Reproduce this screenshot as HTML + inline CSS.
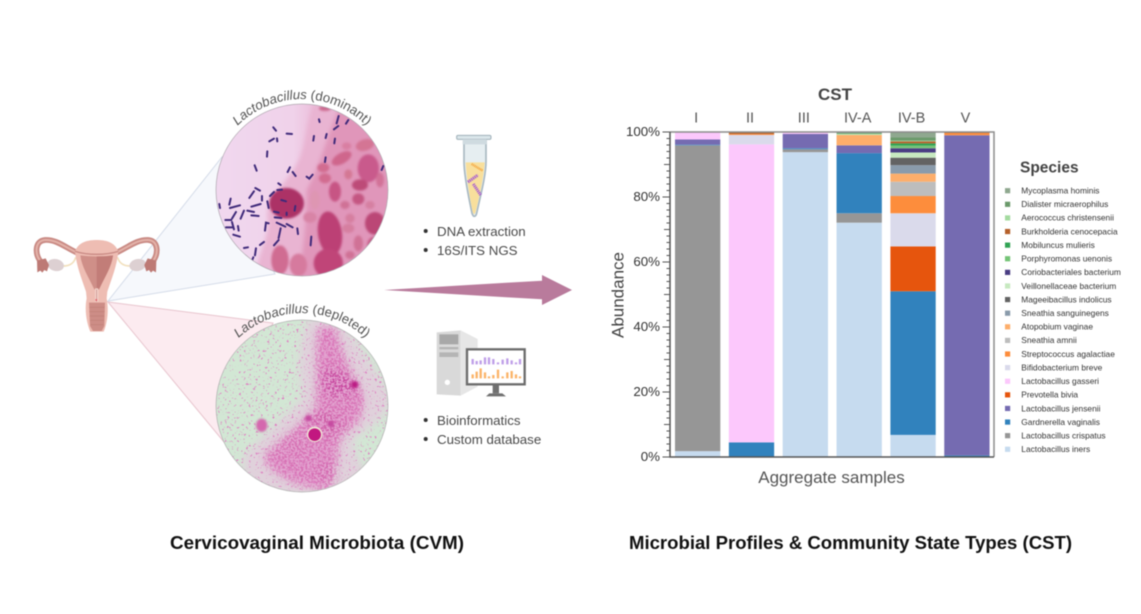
<!DOCTYPE html>
<html lang="en">
<head>
<meta charset="utf-8">
<title>Cervicovaginal Microbiota and Community State Types</title>
<style>
html,body{margin:0;padding:0;background:#fff;width:1141px;height:614px;overflow:hidden}
svg{display:block;filter:blur(0.4px)}
text{font-family:"Liberation Sans",sans-serif}
</style>
</head>
<body>
<svg id="root" xmlns="http://www.w3.org/2000/svg" width="1141" height="614" viewBox="0 0 1141 614">
<defs>
  <clipPath id="clip1"><circle cx="302" cy="190" r="86"/></clipPath>
  <clipPath id="clip2"><circle cx="302" cy="406" r="86"/></clipPath>
  <linearGradient id="m1bg" x1="0" y1="0" x2="1" y2="0">
    <stop offset="0" stop-color="#f1d8ef"/><stop offset="0.45" stop-color="#f0d2ea"/><stop offset="0.62" stop-color="#eab8d6"/><stop offset="1" stop-color="#e09abe"/>
  </linearGradient>
  <filter id="soft" x="-30%" y="-30%" width="160%" height="160%"><feGaussianBlur stdDeviation="6"/></filter>
  <filter id="soft12" x="-40%" y="-40%" width="180%" height="180%"><feGaussianBlur stdDeviation="13"/></filter>
  <filter id="soft1" x="-30%" y="-30%" width="160%" height="160%"><feGaussianBlur stdDeviation="3.2"/></filter>
  <filter id="speck" x="0" y="0" width="100%" height="100%" color-interpolation-filters="sRGB">
    <feTurbulence type="fractalNoise" baseFrequency="0.14" numOctaves="2" seed="7" result="n"/>
    <feColorMatrix in="n" type="matrix" values="0 0 0 0 0.87  0 0 0 0 0.5  0 0 0 0 0.76  9 0 0 0 -5.7" result="s"/>
    <feComposite in="s" in2="SourceAlpha" operator="in"/>
  </filter>
  <filter id="speck2" x="0" y="0" width="100%" height="100%" color-interpolation-filters="sRGB">
    <feTurbulence type="fractalNoise" baseFrequency="0.16" numOctaves="2" seed="3" result="n"/>
    <feColorMatrix in="n" type="matrix" values="0 0 0 0 1  0 0 0 0 1  0 0 0 0 1  6 0 0 0 -2.6" result="m"/>
    <feComposite in="SourceGraphic" in2="m" operator="in"/>
  </filter>
</defs>

<rect width="1141" height="614" fill="#fff"/>

<!-- Fans -->
<polygon points="108,301 222,157 275,274" fill="#f6f8fc" stroke="#d5dce9" stroke-width="1"/>
<polygon points="108,302 273,323 224,442" fill="#fcebf0" stroke="#e8c5ce" stroke-width="1"/>

<!-- Uterus -->
<g transform="translate(25,230) scale(0.3333)">
  <g>
    <path d="M115 108 C135 108,148 98,152 82" fill="none" stroke="#f2e0bd" stroke-width="5"/>
    <ellipse cx="92" cy="105" rx="25" ry="18" transform="rotate(12 92 105)" fill="#ddd0d2"/>
    <path d="M160 70 C120 52,95 28,60 30 C30 32,28 70,47 95" fill="none" stroke="#c98a84" stroke-width="17"/>
    <path d="M160 70 C120 52,95 28,60 30 C30 32,28 70,47 95" fill="none" stroke="#e3b2a9" stroke-width="6"/>
    <path d="M36 92 L62 85 L72 105 L66 124 L58 120 L52 128 L46 122 L37 127 Z" fill="#bd7a75"/>
  </g>
  <g transform="translate(430,0) scale(-1,1)">
    <path d="M115 108 C135 108,148 98,152 82" fill="none" stroke="#f2e0bd" stroke-width="5"/>
    <ellipse cx="92" cy="105" rx="25" ry="18" transform="rotate(12 92 105)" fill="#ddd0d2"/>
    <path d="M160 70 C120 52,95 28,60 30 C30 32,28 70,47 95" fill="none" stroke="#c98a84" stroke-width="17"/>
    <path d="M160 70 C120 52,95 28,60 30 C30 32,28 70,47 95" fill="none" stroke="#e3b2a9" stroke-width="6"/>
    <path d="M36 92 L62 85 L72 105 L66 124 L58 120 L52 128 L46 122 L37 127 Z" fill="#bd7a75"/>
  </g>
  <path d="M150 65 C160 35,190 30,215 30 C240 30,270 35,280 65 C275 110,262 140,247 185 L245 205 C252 240,247 280,236 305 L196 305 C185 280,178 240,185 205 L183 185 C168 140,155 110,150 65Z" fill="#eebdb3"/>
  <path d="M150 64 C190 76,240 76,280 64" fill="none" stroke="#c98a84" stroke-width="4"/>
  <path d="M166 76 C195 80,235 80,264 76 C260 110,240 140,222 178 L208 178 C190 140,170 110,166 76Z" fill="#cf8f88"/>
  <path d="M215 79 C235 80,250 78,264 76 C260 110,240 140,222 178 L215 178Z" fill="#c27d78"/>
  <path d="M215 175 L215 215" stroke="#f5d8d0" stroke-width="9"/>
  <path d="M215 178 L215 215" stroke="#c27d78" stroke-width="2"/>
  <circle cx="214" cy="210" r="3" fill="#e2606a"/>
  <path d="M192 218 L240 218 L238 288 L230 303 L204 303 L195 288Z" fill="#cd8d86"/>
  <path d="M193 232 H239 M193 245 H239 M194 258 H238 M195 271 H237 M197 284 H235" stroke="#c08078" stroke-width="2"/>
</g>

<!-- Micrograph 1 -->
<g clip-path="url(#clip1)">
  <rect x="216" y="104" width="172" height="172" fill="url(#m1bg)"/>
  <g transform="translate(20,80) scale(0.3333)">
    <path d="M880 70 C850 160,860 210,820 270 C770 340,730 370,745 430 C740 500,690 560,720 610 L1120 610 L1120 60Z" fill="#e9b4d2" filter="url(#soft)"/>
    <path d="M960 80 C920 170,900 260,860 330 C860 430,850 520,830 610 L1120 610 L1120 60Z" fill="#e096ba" filter="url(#soft)"/>
    <g filter="url(#soft1)">
      <ellipse cx="800" cy="370" rx="52" ry="46" fill="#ac3066"/>
      <ellipse cx="930" cy="460" rx="36" ry="66" transform="rotate(-8 930 460)" fill="#bc3f74"/>
      <ellipse cx="925" cy="550" rx="44" ry="44" fill="#c04478"/>
      <ellipse cx="780" cy="540" rx="26" ry="44" fill="#d06c92"/>
      <ellipse cx="835" cy="555" rx="26" ry="34" fill="#d67a9e"/>
      <ellipse cx="1045" cy="265" rx="32" ry="42" fill="#c95a8c"/>
      <ellipse cx="1065" cy="430" rx="30" ry="34" fill="#bb4676"/>
      <ellipse cx="945" cy="335" rx="18" ry="30" fill="#c75484"/>
      <ellipse cx="965" cy="235" rx="33" ry="16" transform="rotate(-30 965 235)" fill="#cf668c"/>
      <ellipse cx="1035" cy="195" rx="28" ry="17" transform="rotate(-15 1035 195)" fill="#d47494"/>
      <ellipse cx="910" cy="263" rx="18" ry="14" fill="#d26c90"/>
      <ellipse cx="915" cy="295" rx="18" ry="15" fill="#d26c90"/>
      <ellipse cx="980" cy="198" rx="14" ry="11" fill="#d97fa2"/>
      <ellipse cx="1020" cy="315" rx="24" ry="17" fill="#bd4c78"/>
      <ellipse cx="1015" cy="357" rx="18" ry="17" fill="#c45682"/>
      <ellipse cx="975" cy="375" rx="14" ry="12" fill="#d07296"/>
      <ellipse cx="1015" cy="490" rx="14" ry="24" fill="#d07296"/>
      <ellipse cx="985" cy="445" rx="18" ry="14" fill="#d67fa0"/>
      <ellipse cx="990" cy="415" rx="14" ry="14" fill="#d67fa0"/>
      <ellipse cx="870" cy="412" rx="20" ry="16" fill="#d884a6"/>
      <ellipse cx="885" cy="360" rx="14" ry="28" fill="#de96b2"/>
      <ellipse cx="1080" cy="300" rx="12" ry="22" fill="#d27298"/>
      <ellipse cx="985" cy="283" rx="12" ry="15" fill="#d47894"/>
      <ellipse cx="990" cy="525" rx="14" ry="12" fill="#d07296"/>
      <ellipse cx="915" cy="85" rx="18" ry="8" fill="#cc6a90"/>
      <ellipse cx="1060" cy="495" rx="18" ry="24" fill="#c85c88"/>
      <ellipse cx="1050" cy="375" rx="14" ry="12" fill="#d680a2"/>
    </g>
    <path fill="none" stroke="#3f2a7a" stroke-width="6" stroke-linecap="round" d="M760 142 L768 152 M800 161 L816 162 M748 184 L762 176 M771 175 L772 184 M742 214 L741 230 M704 256 L710 272 M803 276 L810 262 M818 276 L827 288 M860 290 L868 296 L878 284 M882 168 L880 182 M920 162 L917 174 M945 176 L943 190 M950 130 L956 108 M942 148 L955 138 M985 120 L978 131 M897 118 L899 126 M917 232 L915 246 M1090 258 L1085 270 M775 310 L782 315 M706 324 L720 332 M772 330 L786 329 M702 334 L688 354 M750 348 L762 336 M726 348 L726 362 M632 356 L628 374 M598 372 L600 384 M630 384 L660 376 M694 380 L722 372 M742 364 L746 384 M648 396 L636 416 M616 420 L634 420 M662 416 L672 392 M682 392 L702 396 M694 406 L716 408 M636 426 L642 448 M618 442 L640 442 M654 438 L656 452 M640 464 L660 470 M735 452 L738 428 L746 430 M762 395 L776 398 M764 412 L784 414 M770 428 L796 440 M800 432 L818 442 M782 445 L776 474 M776 480 L762 496 M672 504 L684 502 M720 495 L732 486 M708 505 L705 526 M700 532 L696 542 M832 445 L834 462 M874 470 L872 496 M826 378 L824 392 M800 398 L800 405 M784 360 L798 364"/>
  </g>
</g>
<circle cx="302" cy="190" r="86" fill="none" stroke="#b0a8b0" stroke-width="0.7"/>

<!-- Micrograph 2 -->
<g clip-path="url(#clip2)">
  <rect x="216" y="320" width="172" height="172" fill="#d2e7d4"/>
  <g transform="translate(20,300) scale(0.3333)">
    <g filter="url(#soft12)">
      <path d="M870 50 C830 130,830 210,850 290 C810 340,740 390,670 470 C660 520,700 590,760 590 L1060 590 C1040 500,1000 470,1000 420 C1050 380,1110 350,1110 290 C1080 220,1010 130,960 50Z" fill="#e4c9de" opacity="0.75"/>
      <path d="M900 80 C885 150,895 220,890 320 C860 360,800 410,730 470 C760 530,840 560,920 570 C955 510,945 470,960 410 C1010 370,1040 340,1030 280 C1000 230,960 170,945 80Z" fill="#e2a2cf"/>
    </g>
    <g filter="url(#speck2)"><g filter="url(#soft12)">
      <path d="M900 80 C885 150,895 220,890 320 C860 360,800 410,730 470 C760 530,840 560,920 570 C955 510,945 470,960 410 C1010 370,1040 340,1030 280 C1000 230,960 170,945 80Z" fill="#d873b6"/>
      <path d="M905 210 C950 195,1005 230,1015 265 C1000 300,940 290,905 280Z" fill="#c84aa0"/>
      <path d="M880 335 C920 325,985 350,975 395 C950 425,900 415,870 380Z" fill="#cf5ea8"/>
      <path d="M770 435 C795 400,845 380,865 420 C855 465,790 475,750 465Z" fill="#d670b2"/>
      <path d="M905 490 C930 475,955 500,945 545 C920 555,895 530,905 490Z" fill="#d062aa"/>
    </g></g>
    <rect x="590" y="50" width="520" height="540" fill="#000" filter="url(#speck)"/>
    <circle cx="1004" cy="254" r="11" fill="#bc1f85" filter="url(#soft1)"/>
    <ellipse cx="725" cy="376" rx="17" ry="20" fill="#d468ae" filter="url(#soft1)"/>
    <circle cx="865" cy="355" r="10" fill="#c64aa0" filter="url(#soft1)"/>
    <circle cx="933" cy="372" r="10" fill="#c64aa0" filter="url(#soft1)"/>
    <circle cx="884" cy="403" r="23" fill="#efe8d6"/>
    <circle cx="884" cy="404" r="19" fill="#c21780"/>
  </g>
</g>
<circle cx="302" cy="406" r="86" fill="none" stroke="#b0b0b0" stroke-width="0.7"/>

<!-- Curved labels -->
<path id="arc1" d="M211 190 A91 91 0 0 1 393 190" fill="none"/>
<path id="arc2" d="M209 406 A93 93 0 0 1 395 406" fill="none"/>
<text font-size="13.2" fill="#555"><textPath href="#arc1" startOffset="50%" text-anchor="middle"><tspan font-style="italic">Lactobacillus</tspan> (dominant)</textPath></text>
<text font-size="13.2" fill="#555"><textPath href="#arc2" startOffset="50%" text-anchor="middle"><tspan font-style="italic">Lactobacillus</tspan> (depleted)</textPath></text>

<!-- Tube -->
<g transform="translate(380,120) scale(0.3333)">
  <path d="M252 60 L318 60 L318 125 C318 170,298 240,290 280 C287 292,280 292,276 280 C268 240,252 170,252 125Z" fill="#e6eef1" stroke="#a9b9c2" stroke-width="5"/>
  <path d="M257 127 L314 127 C312 170,296 240,287 275 C284 285,281 285,278 275 C270 240,259 170,257 127Z" fill="#f8df9c"/>
  <rect x="230" y="46" width="103" height="12" rx="4" fill="#dbe6ea" stroke="#9fb0b9" stroke-width="3"/>
  <rect x="248" y="58" width="72" height="15" fill="#cfdbe0"/>
  <path d="M275 132 L308 152" stroke="#f5a33c" stroke-width="7" stroke-dasharray="3 2"/>
  <path d="M264 186 L294 165" stroke="#a85fd0" stroke-width="9" stroke-dasharray="4 2"/>
  <path d="M280 192 L302 225" stroke="#a85fd0" stroke-width="9" stroke-dasharray="4 2"/>
</g>
<g>
  <circle cx="425.7" cy="231" r="2" fill="#333"/>
  <circle cx="425.7" cy="250" r="2" fill="#333"/>
  <text x="437" y="236" font-size="13.3" fill="#4a4a4a">DNA extraction</text>
  <text x="437" y="255" font-size="13.3" fill="#4a4a4a">16S/ITS NGS</text>
</g>

<!-- Arrow -->
<polygon points="384,290 542,280.7 542,275 572,290 542,305 542,299.3" fill="#b97b9c"/>

<!-- Computer -->
<g transform="translate(430,325) scale(0.3333)">
  <polygon points="92,16 143,42 143,185 92,212" fill="#e6e6e6"/>
  <polygon points="20,22 92,16 92,212 20,208" fill="#d9d9d9"/>
  <rect x="28" y="28" width="57" height="30" fill="#a8a8a8"/>
  <rect x="28" y="66" width="57" height="7" fill="#b5b5b5"/>
  <rect x="28" y="82" width="57" height="14" fill="#b5b5b5"/>
  <circle cx="52" cy="172" r="8" fill="#fff"/>
  <rect x="188" y="178" width="19" height="27" fill="#707070"/>
  <polygon points="178,205 217,205 228,214 168,214" fill="#707070"/>
  <rect x="111" y="73" width="173" height="105" fill="#fff" stroke="#6d6d6d" stroke-width="7"/>
  <g stroke="#bf9fe8" stroke-width="7">
    <path d="M128 118 V102 M140 118 V108 M152 118 V106 M165 118 V97 M177 118 V97 M190 118 V102 M204 118 V112 M218 118 V104 M232 118 V100 M245 118 V106 M258 118 V112 M270 118 V102"/>
  </g>
  <g stroke="#fbb469" stroke-width="7">
    <path d="M128 160 V148 M140 160 V140 M152 160 V130 M165 160 V142 M177 160 V154 M190 160 V150 M204 160 V134 M218 160 V154 M232 160 V142 M245 160 V138 M258 160 V148 M270 160 V154"/>
  </g>
</g>
<g>
  <circle cx="425.7" cy="420" r="2" fill="#333"/>
  <circle cx="425.7" cy="439" r="2" fill="#333"/>
  <text x="437" y="425" font-size="13.3" fill="#4a4a4a">Bioinformatics</text>
  <text x="437" y="444" font-size="13.3" fill="#4a4a4a">Custom database</text>
</g>

<!-- Section titles -->
<text x="170" y="549" font-size="18" font-weight="bold" fill="#111" textLength="294" lengthAdjust="spacingAndGlyphs">Cervicovaginal Microbiota (CVM)</text>
<text x="629" y="549" font-size="18" font-weight="bold" fill="#111" textLength="443" lengthAdjust="spacingAndGlyphs">Microbial Profiles &amp; Community State Types (CST)</text>

<g id="chart"></g>
</svg>

<script>
const categories = ["I", "II", "III", "IV-A", "IV-B", "V"];
const speciesStackOrder = ["Lactobacillus iners", "Lactobacillus crispatus", "Gardnerella vaginalis", "Lactobacillus jensenii", "Prevotella bivia", "Lactobacillus gasseri", "Bifidobacterium breve", "Streptococcus agalactiae", "Sneathia amnii", "Atopobium vaginae", "Sneathia sanguinegens", "Mageeibacillus indolicus", "Veillonellaceae bacterium", "Coriobacteriales bacterium", "Porphyromonas uenonis", "Mobiluncus mulieris", "Burkholderia cenocepacia", "Aerococcus christensenii", "Dialister micraerophilus", "Mycoplasma hominis"];
const speciesColors = ["#c6dbef", "#969696", "#3182bd", "#756bb1", "#e6550d", "#fcc8fc", "#dadaeb", "#fd8d3c", "#bdbdbd", "#fdae6b", "#8a9bab", "#636363", "#c7e9c0", "#4a3d83", "#74c476", "#31a354", "#b5602a", "#a4dba0", "#6b9a6b", "#8fa88f"];
const seriesIners = [1.8, 0, 93.8, 72.1, 6.8, 0];
const seriesCrispatus = [94.1, 0, 0.9, 2.9, 0, 0];
const seriesGardnerella = [0.2, 4.5, 0.3, 18.5, 44.2, 0.5];
const seriesJensenii = [1.6, 0, 4.4, 2.4, 0, 98.5];
const seriesPrevotella = [0, 0, 0, 0, 13.8, 0];
const seriesGasseri = [2.3, 91.7, 0.6, 0, 0, 0];
const seriesBifidobacterium = [0, 2.9, 0, 0, 10.2, 0];
const seriesStreptococcus = [0, 0.3, 0, 0, 5.3, 0.7];
const seriesAmnii = [0, 0, 0, 0, 4.4, 0];
const seriesAtopobium = [0, 0, 0, 3.2, 2.5, 0];
const seriesSanguinegens = [0, 0, 0, 0, 2.6, 0];
const seriesMageeibacillus = [0, 0, 0, 0, 2.3, 0];
const seriesVeillonellaceae = [0, 0, 0, 0.2, 1.6, 0];
const seriesCoriobacteriales = [0, 0, 0, 0, 1.3, 0];
const seriesPorphyromonas = [0, 0, 0, 0.2, 0.8, 0];
const seriesMobiluncus = [0, 0, 0, 0, 0.7, 0];
const seriesBurkholderia = [0, 0.6, 0, 0, 0.6, 0.3];
const seriesAerococcus = [0, 0, 0, 0, 0.2, 0];
const seriesDialister = [0, 0, 0, 0.2, 1.0, 0];
const seriesMycoplasma = [0, 0, 0, 0.3, 1.6, 0];
const yTickValues = [0, 20, 40, 60, 80, 100];

const allSeries = [seriesIners, seriesCrispatus, seriesGardnerella, seriesJensenii, seriesPrevotella, seriesGasseri, seriesBifidobacterium, seriesStreptococcus, seriesAmnii, seriesAtopobium, seriesSanguinegens, seriesMageeibacillus, seriesVeillonellaceae, seriesCoriobacteriales, seriesPorphyromonas, seriesMobiluncus, seriesBurkholderia, seriesAerococcus, seriesDialister, seriesMycoplasma];

const NS = "http://www.w3.org/2000/svg";
const chart = document.getElementById("chart");
function yScale(v) { return 457 - v * 3.25; }
function barLeft(i) { return 675 + i * 53.85; }
const barWidth = 45.3;
function slug(s) { return s.toLowerCase().replace(/[^a-z0-9]+/g, "-"); }
function make(tag, parent) {
  const el = document.createElementNS(NS, tag);
  parent.appendChild(el);
  return el;
}

// bars
categories.forEach(function (cat, c) {
  const group = make("g", chart);
  
  
  let cumulative = 0;
  allSeries.forEach(function (series, s) {
    const v = series[c];
    if (v <= 0) return;
    const seg = make("rect", group);
    
    
    seg.setAttribute("x", barLeft(c));
    seg.setAttribute("width", barWidth);
    seg.setAttribute("y", yScale(cumulative + v));
    seg.setAttribute("height", v * 3.25);
    seg.setAttribute("fill", speciesColors[s]);
    cumulative += v;
  });
});

// frame and axes
const frame = make("path", chart);


frame.setAttribute("d", "M670 " + yScale(100) + " H994 V" + yScale(0));
frame.setAttribute("fill", "none");
frame.setAttribute("stroke", "#8c8c8c");
frame.setAttribute("stroke-width", "1.5");

const yAxis = make("path", chart);


yAxis.setAttribute("d", "M670 " + yScale(100) + " V" + yScale(0) + " H994");
yAxis.setAttribute("fill", "none");
yAxis.setAttribute("stroke", "#555");
yAxis.setAttribute("stroke-width", "1.5");

for (let v = 0; v <= 100; v += 2) {
  const tick = make("line", chart);
  
  
  const len = v % 20 === 0 ? 7.5 : (v % 10 === 0 ? 6 : 3.5);
  tick.setAttribute("x1", 670 - len);
  tick.setAttribute("x2", 670);
  tick.setAttribute("y1", yScale(v));
  tick.setAttribute("y2", yScale(v));
  tick.setAttribute("stroke", "#555");
  tick.setAttribute("stroke-width", "1");
}

yTickValues.forEach(function (v) {
  const label = make("text", chart);
  
  
  label.setAttribute("x", 660);
  label.setAttribute("y", yScale(v) + 4);
  label.setAttribute("text-anchor", "end");
  label.setAttribute("font-size", "13.3");
  label.setAttribute("fill", "#333");
  label.textContent = v + "%";
});

categories.forEach(function (cat, c) {
  const label = make("text", chart);
  
  
  label.setAttribute("x", barLeft(c) + barWidth / 2 - 1.5);
  label.setAttribute("y", 122.5);
  label.setAttribute("text-anchor", "middle");
  label.setAttribute("font-size", "14.5");
  label.setAttribute("fill", "#555");
  label.textContent = cat;
});

const cstTitle = make("text", chart);


cstTitle.setAttribute("x", 835);
cstTitle.setAttribute("y", 100);
cstTitle.setAttribute("text-anchor", "middle");
cstTitle.setAttribute("font-size", "17");
cstTitle.setAttribute("font-weight", "bold");
cstTitle.setAttribute("fill", "#444");
cstTitle.textContent = "CST";

const yTitle = make("text", chart);


yTitle.setAttribute("transform", "translate(623.5,295) rotate(-90)");
yTitle.setAttribute("text-anchor", "middle");
yTitle.setAttribute("font-size", "17");
yTitle.setAttribute("fill", "#444");
yTitle.textContent = "Abundance";

const xTitle = make("text", chart);


xTitle.setAttribute("x", 831.5);
xTitle.setAttribute("y", 483);
xTitle.setAttribute("text-anchor", "middle");
xTitle.setAttribute("font-size", "17");
xTitle.setAttribute("fill", "#555");
xTitle.textContent = "Aggregate samples";

// legend
const legendTitle = make("text", chart);


legendTitle.setAttribute("x", 1020);
legendTitle.setAttribute("y", 172.5);
legendTitle.setAttribute("font-size", "15.5");
legendTitle.setAttribute("font-weight", "bold");
legendTitle.setAttribute("fill", "#444");
legendTitle.textContent = "Species";

speciesStackOrder.forEach(function (name, s) {
  const row = speciesStackOrder.length - 1 - s;
  const yc = 190.7 + row * 13.61;
  const entry = make("g", chart);
  
  
  const swatch = make("rect", entry);
  
  
  swatch.setAttribute("x", 1005);
  swatch.setAttribute("y", yc - 2.6);
  swatch.setAttribute("width", 5.2);
  swatch.setAttribute("height", 5.2);
  swatch.setAttribute("fill", speciesColors[s]);
  const txt = make("text", entry);
  
  
  txt.setAttribute("x", 1021.3);
  txt.setAttribute("y", yc + 2.8);
  txt.setAttribute("font-size", "8.4");
  txt.setAttribute("fill", "#333");
  txt.textContent = name;
});
</script>
</body>
</html>
